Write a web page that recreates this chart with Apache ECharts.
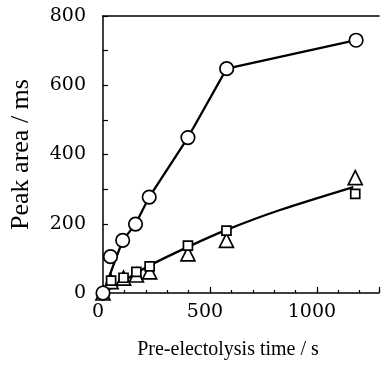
<!DOCTYPE html>
<html>
<head>
<meta charset="utf-8">
<script src="https://cdn.jsdelivr.net/npm/echarts@6/dist/echarts.min.js"></script>
<style>
  html, body { margin: 0; padding: 0; background: #fff; }
  #chart { width: 382px; height: 365px; }
</style>
</head>
<body>
<div id="chart"></div>
<script>
// Pre-electrolysis time (s) and peak area (ms) for the three series
const timeCircle = [0, 35, 92, 152, 216, 397, 578, 1183];
const areaCircle = [0, 105, 152, 199, 277, 449, 648, 730];
// the connecting line for the circles runs from the origin straight to the third point
const circleLineIdx = [0, 2, 3, 4, 5, 6, 7];

const timeSquare = [0, 38, 96, 156, 218, 397, 577, 1179];
const areaSquare = [0, 36, 44, 61, 77, 137, 180, 286];

const timeTriangle = [0, 38, 96, 156, 218, 397, 577, 1179];
const areaTriangle = [0, 33, 43, 52, 61, 113, 152, 333];

// smooth trend curve through the square / triangle data
const fitTime = [0, 100, 220, 400, 580, 824, 1170];
const fitArea = [0, 37, 80, 134, 183, 239, 306];

const xTicksMajor = [0, 500, 1000];
const yTicksLabelled = [0, 200, 400, 600, 800];

const pairs = (xs, ys) => xs.map((x, i) => [x, ys[i]]);

const digitFont = 'DejaVu Serif';
const nameFont = 'Liberation Serif';
const ink = '#000';

const X_MIN = 0, X_MAX = 1290;

const chart = echarts.init(document.getElementById('chart'), null, { renderer: 'canvas' });

const markerStyle = { color: '#fff', borderColor: ink, borderWidth: 1.7, opacity: 1 };

chart.setOption({
  animation: false,
  backgroundColor: '#fff',
  grid: { left: 100, top: 16, right: 0, bottom: 65 },
  xAxis: [
    {
      // minor ticks every 100 s
      type: 'value', min: X_MIN, max: X_MAX, interval: 100,
      axisLine: { lineStyle: { color: ink, width: 1.5 } },
      axisTick: { inside: true, length: 3, lineStyle: { color: ink, width: 1.2 } },
      axisLabel: { show: false },
      splitLine: { show: false }
    },
    {
      // major ticks with labels
      type: 'value', min: X_MIN, max: X_MAX, interval: 500, position: 'bottom',
      axisLine: { show: false },
      axisTick: { inside: true, length: 6, lineStyle: { color: ink, width: 1.2 } },
      axisLabel: {
        color: ink, fontFamily: digitFont, fontSize: 19, margin: 10,
        padding: [0, 10, 0, 0],
        formatter: v => (xTicksMajor.includes(v) ? String(v) : '')
      },
      splitLine: { show: false },
      name: 'Pre-electolysis time / s',
      nameLocation: 'middle', nameGap: 47,
      nameTextStyle: { color: ink, fontFamily: nameFont, fontSize: 20, padding: [0, 26, 0, 0] }
    },
    {
      // top frame line
      type: 'value', min: X_MIN, max: X_MAX, position: 'top',
      axisLine: { lineStyle: { color: ink, width: 1.5 } },
      axisTick: { show: false }, axisLabel: { show: false }, splitLine: { show: false }
    }
  ],
  yAxis: {
    type: 'value', min: 0, max: 800, interval: 100,
    axisLine: { lineStyle: { color: ink, width: 1.5 } },
    axisTick: { inside: true, length: 5, lineStyle: { color: ink, width: 1.2 } },
    axisLabel: {
      color: ink, fontFamily: digitFont, fontSize: 19, margin: 17,
      padding: [4, 0, 0, 0],
      formatter: v => (yTicksLabelled.includes(v) ? String(v) : '')
    },
    splitLine: { show: false },
    name: 'Peak area / ms',
    nameLocation: 'middle', nameGap: 69,
    nameTextStyle: { color: ink, fontFamily: nameFont, fontSize: 26 }
  },
  series: [
    {
      type: 'line', xAxisIndex: 0, showSymbol: false, silent: true,
      data: circleLineIdx.map(i => [timeCircle[i], areaCircle[i]]),
      lineStyle: { color: ink, width: 2.3 }, z: 2
    },
    {
      type: 'line', xAxisIndex: 0, showSymbol: false, silent: true, smooth: 0.3,
      data: pairs(fitTime, fitArea),
      lineStyle: { color: ink, width: 2.3 }, z: 2
    },
    {
      type: 'scatter', xAxisIndex: 0, symbol: 'triangle', symbolSize: 14,
      data: pairs(timeTriangle, areaTriangle),
      itemStyle: markerStyle, z: 3
    },
    {
      type: 'scatter', xAxisIndex: 0, symbol: 'rect', symbolSize: 9,
      data: pairs(timeSquare, areaSquare),
      itemStyle: markerStyle, z: 4
    },
    {
      type: 'scatter', xAxisIndex: 0, symbol: 'circle', symbolSize: 13.5,
      data: pairs(timeCircle, areaCircle),
      itemStyle: markerStyle, z: 5
    }
  ]
});
</script>
</body>
</html>
